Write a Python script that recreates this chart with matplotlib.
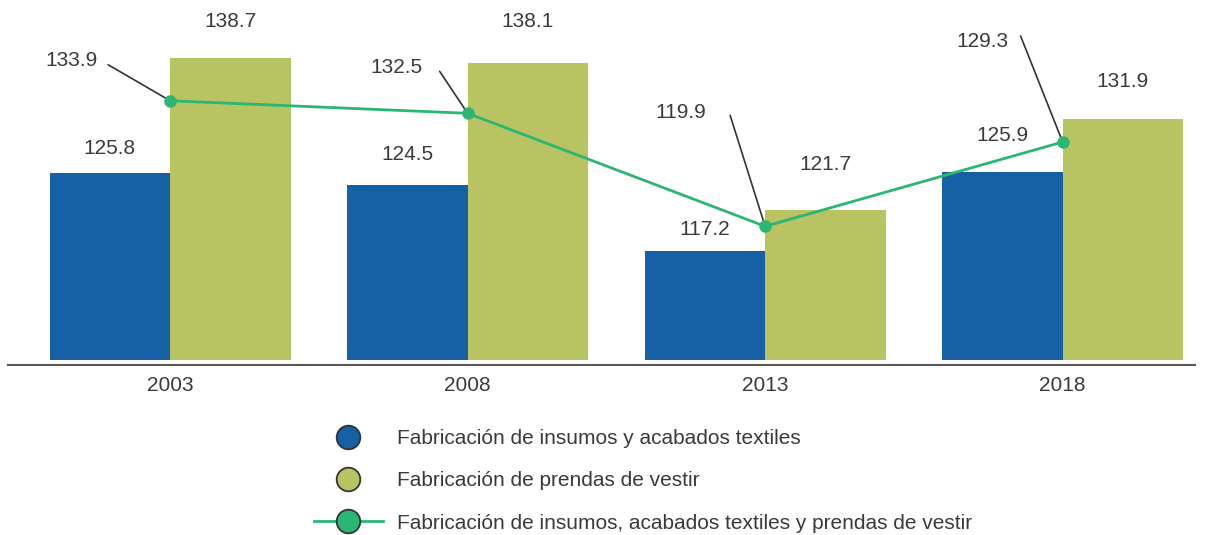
import matplotlib
matplotlib.use("Agg")
import matplotlib.pyplot as plt
from matplotlib.lines import Line2D
import numpy as np

# data
years = ["2003", "2008", "2013", "2018"]
insumos = [125.8, 124.5, 117.2, 125.9]
prendas = [138.7, 138.1, 121.7, 131.9]
total = [133.9, 132.5, 119.9, 129.3]

labels = [
    "Fabricación de insumos y acabados textiles",
    "Fabricación de prendas de vestir",
    "Fabricación de insumos, acabados textiles y prendas de vestir",
]

BASE = 105.0  # bars start here (truncated value axis)

# colours
BLUE = "#1660A5"
OLIVE = "#B8C462"
GREEN = "#2BB673"
TEXT = "#3A3A3A"

plt.rcParams["font.family"] = ["Liberation Sans", "DejaVu Sans"]
plt.rcParams["font.size"] = 15

W, H = 1207, 535
fig = plt.figure(figsize=(W / 100, H / 100), dpi=100)
ax = fig.add_axes([8 / W, (H - 365) / H, (1195 - 8) / W, 365 / H])

x = np.arange(len(years))
bw = 0.405

ax.bar(x, np.array(insumos) - BASE, bottom=BASE, width=-bw, align="edge",
       color=BLUE, linewidth=0)
ax.bar(x, np.array(prendas) - BASE, bottom=BASE, width=bw, align="edge",
       color=OLIVE, linewidth=0)
ax.plot(x, total, color=GREEN, linewidth=2, marker="o", markersize=9,
        markeredgewidth=0, zorder=4)

# label offsets in pixels (manual placement like the original)
off_blue = [25, 31, 21, 37]
off_olive = [36, 42, 46, 37]
off_line_txt = [(-99, 40), (-71, 46), (-84, 114), (-80, 100)]
off_leader = [(-62, 36), (-28, 42), (-35, 111), (-42, 106)]

for i in range(len(years)):
    ax.annotate(f"{insumos[i]:.1f}", (x[i] - bw / 2, insumos[i]),
                xytext=(0, off_blue[i]), textcoords="offset pixels",
                ha="center", va="center", color=TEXT)
    ax.annotate(f"{prendas[i]:.1f}", (x[i] + bw / 2, prendas[i]),
                xytext=(0, off_olive[i]), textcoords="offset pixels",
                ha="center", va="center", color=TEXT)
    ax.annotate(f"{total[i]:.1f}", (x[i], total[i]),
                xytext=off_line_txt[i], textcoords="offset pixels",
                ha="center", va="center", color=TEXT)
    ax.annotate("", (x[i], total[i]), xytext=off_leader[i],
                textcoords="offset pixels",
                arrowprops=dict(arrowstyle="-", color="#333333", lw=1.2,
                                shrinkA=0, shrinkB=0), zorder=3)

ax.set_xlim(-0.545, 3.445)
ax.set_ylim(104.44, 145.13)
ax.set_xticks(x)
ax.set_xticklabels(years, color=TEXT)
ax.tick_params(axis="x", length=0, pad=8)
ax.set_yticks([])
for s in ["top", "left", "right"]:
    ax.spines[s].set_visible(False)
ax.spines["bottom"].set_color("#595959")
ax.spines["bottom"].set_linewidth(1.5)

handles = [
    Line2D([], [], linestyle="none", marker="o", markersize=17,
           markerfacecolor=BLUE, markeredgecolor="#333333", markeredgewidth=1.3),
    Line2D([], [], linestyle="none", marker="o", markersize=17,
           markerfacecolor=OLIVE, markeredgecolor="#333333", markeredgewidth=1.3),
    Line2D([], [], color=GREEN, linewidth=2, marker="o", markersize=17,
           markerfacecolor=GREEN, markeredgecolor="#333333", markeredgewidth=1.3),
]
fig.legend(handles, labels, loc="upper left", bbox_to_anchor=(314 / W, 1 - 429 / H),
           frameon=False, handlelength=3.3, handletextpad=0.7, labelspacing=1.12,
           borderpad=0, borderaxespad=0, labelcolor=TEXT, fontsize=15)

fig.savefig("out.png", dpi=100)
